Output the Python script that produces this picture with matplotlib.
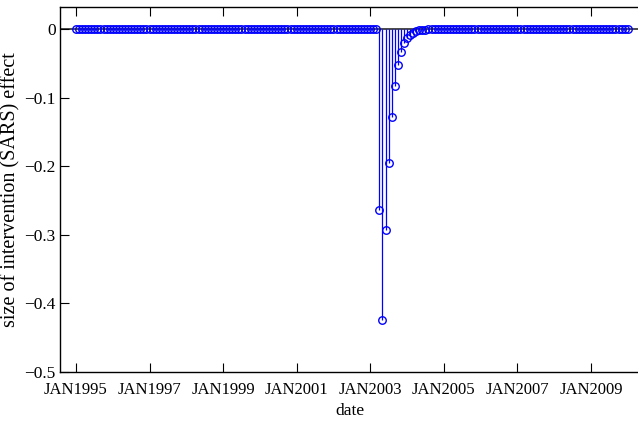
import numpy as np
import matplotlib
matplotlib.use("Agg")
import matplotlib.pyplot as plt

# Monthly series, JAN1995 .. JAN2010
n_months = 181
month_index = np.arange(n_months)

# Estimated intervention (SARS) effect, starting April 2003 (month 99)
shock_start = 99
shock_values = [-0.264, -0.424, -0.293, -0.196, -0.128, -0.0826, -0.0529,
                -0.0331, -0.0208, -0.0132, -0.0083, -0.0052, -0.0033,
                -0.0021, -0.0013, -0.0008, -0.0005, -0.0003, -0.0002, -0.0001]

effect = np.zeros(n_months)
effect[shock_start:shock_start + len(shock_values)] = shock_values

x_ticks = [0, 24, 48, 72, 96, 120, 144, 168]
x_tick_labels = ["JAN1995", "JAN1997", "JAN1999", "JAN2001",
                 "JAN2003", "JAN2005", "JAN2007", "JAN2009"]
y_ticks = [0, -0.1, -0.2, -0.3, -0.4, -0.5]
y_tick_labels = ["0", "\u22120.1", "\u22120.2", "\u22120.3", "\u22120.4", "\u22120.5"]

plt.rcParams["font.family"] = ["Liberation Serif", "DejaVu Serif"]

fig = plt.figure(figsize=(6.38, 4.26), dpi=100)
ax = fig.add_axes([60 / 638, 54 / 426, 580 / 638, 365 / 426])

blue = (0.0, 0.0, 1.0)
ax.axhline(0, color="#3a3a3a", linewidth=1.3, zorder=1)
nz = effect != 0
ax.vlines(month_index[nz], 0, effect[nz], color=blue, linewidth=0.9, zorder=2)
ax.plot(month_index, effect, linestyle="none", marker="o", markersize=5.4,
        markerfacecolor="none", markeredgecolor=blue, markeredgewidth=1.0,
        zorder=3)

ax.set_xlim(-5.2, 184.0)
ax.set_ylim(-0.5, 0.032)
ax.set_xticks(x_ticks)
ax.set_xticklabels(x_tick_labels)
ax.set_yticks(y_ticks)
ax.set_yticklabels(y_tick_labels)

ax.tick_params(direction="in", length=6.5, width=0.8, top=True, right=False,
               colors="black")
ax.tick_params(axis="x", labelsize=12, pad=7)
ax.tick_params(axis="y", labelsize=12.5, pad=3)
for sp in ax.spines.values():
    sp.set_linewidth(1.0)

ax.set_xlabel("date", fontsize=12.5, labelpad=4)
ax.set_ylabel("size of intervention (SARS) effect", fontsize=14.5, labelpad=3)

fig.savefig("out.png", dpi=100)
